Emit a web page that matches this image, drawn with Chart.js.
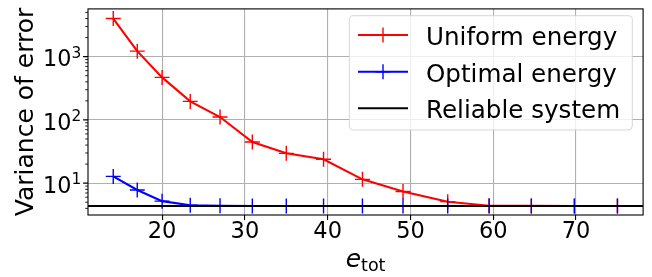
<!DOCTYPE html>
<html><head><meta charset="utf-8">
<script src="https://cdn.jsdelivr.net/npm/chart.js@4.4.0/dist/chart.umd.min.js"></script>
<style>html,body{margin:0;padding:0;background:#fff;overflow:hidden}#wrap{width:652px;height:277px;position:relative}</style>
</head><body><div id="wrap"><canvas id="c" width="652" height="277"></canvas></div>
<script>
// ---- data ----
const eTot = [14.1, 17.0, 20.0, 23.4, 27.0, 30.9, 35.0, 39.5, 44.2, 49.1, 54.5, 59.5, 64.6, 69.8, 75.0];
const uniformEnergy = [4000, 1220, 470, 196, 111, 44.8, 29.6, 23.9, 11.5, 7.4, 5.1, 4.4, 4.37, 4.36, 4.36];
const optimalEnergy = [12.8, 7.8, 5.2, 4.48, 4.38, 4.36, 4.36, 4.36, 4.36, 4.36, 4.36, 4.36, 4.36, 4.36, 4.36];
const reliableSystem = 4.36;
const seriesNames = ['Uniform energy', 'Optimal energy', 'Reliable system'];
const xTicks = [20, 30, 40, 50, 60, 70];
const yTicks = [10, 100, 1000];
const yTickLabels = ['10^1', '10^2', '10^3'];
const xLimits = [11.05, 78.1];
const yLimits = [3.14, 5680];
const xTitle = ['e', 'tot'];
const yTitle = 'Variance of error';

const FONT = '"DejaVu Sans", "Liberation Sans", sans-serif';

function drawCross(ctx, cx, cy, r, color, w) {
  ctx.beginPath();
  ctx.strokeStyle = color; ctx.lineWidth = w;
  ctx.moveTo(cx - r, cy); ctx.lineTo(cx + r, cy);
  ctx.moveTo(cx, cy - r); ctx.lineTo(cx, cy + r);
  ctx.stroke();
}

const decor = {
  id: 'decor',
  afterDatasetsDraw(chart) {
    const { ctx, chartArea: a, scales } = chart;
    const x = scales.x, y = scales.y;
    ctx.save();
    // frame
    ctx.strokeStyle = '#000'; ctx.lineWidth = 1.1;
    ctx.strokeRect(a.left, a.top, a.right - a.left, a.bottom - a.top);
    // y major ticks
    ctx.beginPath();
    yTicks.forEach(v => {
      const py = y.getPixelForValue(v);
      ctx.moveTo(a.left - 4.9, py); ctx.lineTo(a.left, py);
    });
    ctx.stroke();
    // y minor ticks
    ctx.lineWidth = 0.85;
    ctx.beginPath();
    for (let d = 1; d <= 1000; d *= 10) {
      for (let m = 2; m <= 9; m++) {
        const v = m * d;
        if (v < yLimits[0] || v > yLimits[1]) continue;
        const py = y.getPixelForValue(v);
        ctx.moveTo(a.left - 2.8, py); ctx.lineTo(a.left, py);
      }
    }
    ctx.stroke();
    // y tick labels with superscripts
    ctx.fillStyle = '#000';
    ctx.textBaseline = 'alphabetic';
    ctx.textAlign = 'left';
    yTicks.forEach((v, i) => {
      const [base, exp] = yTickLabels[i].split('^');
      const py = y.getPixelForValue(v);
      ctx.font = '22.3px ' + FONT;
      const wb = ctx.measureText(base).width;
      ctx.font = '15.4px ' + FONT;
      const we = ctx.measureText(exp).width;
      const right = a.left - 6.8;
      const x0 = right - wb - we;
      ctx.font = '22.3px ' + FONT;
      ctx.fillText(base, x0, py + 9.8);
      ctx.font = '15.4px ' + FONT;
      ctx.fillText(exp, x0 + wb, py + 1.2);
    });
    // y title
    ctx.save();
    ctx.font = '25px ' + FONT;
    ctx.textAlign = 'center';
    ctx.translate(33.3, (a.top + a.bottom) / 2);
    ctx.rotate(-Math.PI / 2);
    ctx.fillText(yTitle, 0, 0);
    ctx.restore();
    // x title e_tot
    ctx.font = 'italic 25px ' + FONT;
    const w1 = ctx.measureText(xTitle[0]).width;
    ctx.font = '17.5px ' + FONT;
    const w2 = ctx.measureText(xTitle[1]).width;
    const cx = (a.left + a.right) / 2;
    const sx = cx - (w1 + w2) / 2;
    ctx.textAlign = 'left';
    ctx.font = 'italic 25px ' + FONT;
    ctx.fillText(xTitle[0], sx, 267.3);
    ctx.font = '17.5px ' + FONT;
    ctx.fillText(xTitle[1], sx + w1, 271.2);

    // legend
    const bx = 349.3, by = 15.7, bw = 283, bh = 114.3, r = 4;
    ctx.beginPath();
    ctx.moveTo(bx + r, by);
    ctx.arcTo(bx + bw, by, bx + bw, by + bh, r);
    ctx.arcTo(bx + bw, by + bh, bx, by + bh, r);
    ctx.arcTo(bx, by + bh, bx, by, r);
    ctx.arcTo(bx, by, bx + bw, by, r);
    ctx.closePath();
    ctx.fillStyle = 'rgba(255,255,255,0.8)';
    ctx.fill();
    ctx.strokeStyle = 'rgba(204,204,204,0.8)';
    ctx.lineWidth = 1;
    ctx.stroke();
    const rows = [35, 71.7, 108.3];
    chart.data.datasets.forEach((ds, i) => {
      const ry = rows[i];
      ctx.beginPath();
      ctx.strokeStyle = ds.borderColor; ctx.lineWidth = ds.borderWidth;
      ctx.moveTo(358, ry); ctx.lineTo(408, ry);
      ctx.stroke();
      if (ds.pointRadius > 0) drawCross(ctx, 383, ry, ds.pointRadius, ds.borderColor, ds.pointBorderWidth);
      ctx.fillStyle = '#000';
      ctx.font = '24.6px ' + FONT;
      ctx.textAlign = 'left';
      ctx.textBaseline = 'alphabetic';
      ctx.fillText(ds.label, 426, ry + 9.8);
    });
    ctx.restore();
  }
};

const ctx = document.getElementById('c').getContext('2d');
new Chart(ctx, {
  type: 'line',
  data: {
    datasets: [
      { label: seriesNames[0], data: eTot.map((v, i) => ({ x: v, y: uniformEnergy[i] })),
        borderColor: '#ff0000', backgroundColor: '#ff0000', borderWidth: 2.1,
        pointStyle: 'cross', pointRadius: 7.5, pointBorderWidth: 1.4, pointBorderColor: '#ff0000',
        pointHoverRadius: 7.5, fill: false, tension: 0, order: 3 },
      { label: seriesNames[1], data: eTot.map((v, i) => ({ x: v, y: optimalEnergy[i] })),
        borderColor: '#0000ff', backgroundColor: '#0000ff', borderWidth: 2.1,
        pointStyle: 'cross', pointRadius: 7.5, pointBorderWidth: 1.4, pointBorderColor: '#0000ff',
        pointHoverRadius: 7.5, fill: false, tension: 0, order: 2 },
      { label: seriesNames[2], data: xLimits.map(v => ({ x: v, y: reliableSystem })),
        borderColor: '#000000', backgroundColor: '#000000', borderWidth: 2.1,
        pointRadius: 0, pointHoverRadius: 0, fill: false, tension: 0, order: 1 }
    ]
  },
  options: {
    responsive: false, animation: false, devicePixelRatio: 1,
    layout: { padding: { left: 0, right: 8, top: 3, bottom: 0 } },
    plugins: { legend: { display: false }, tooltip: { enabled: false } },
    scales: {
      x: {
        type: 'linear', min: xLimits[0], max: xLimits[1],
        afterBuildTicks: s => { s.ticks = xTicks.map(v => ({ value: v })); },
        afterFit: s => { s.height = 62; },
        grid: { color: '#b0b0b0', lineWidth: 1.1, drawTicks: true, tickLength: 5, tickColor: '#000', tickWidth: 1.1 },
        border: { display: false },
        ticks: { font: { family: FONT, size: 22.5, lineHeight: 1 }, color: '#000', padding: 1,
                 maxRotation: 0, autoSkip: false, callback: v => String(v) }
      },
      y: {
        type: 'logarithmic', min: yLimits[0], max: yLimits[1],
        afterBuildTicks: s => { s.ticks = yTicks.map(v => ({ value: v })); },
        afterFit: s => { s.width = 88; },
        grid: { color: '#b0b0b0', lineWidth: 1.1, drawTicks: false },
        border: { display: false },
        ticks: { display: false }
      }
    }
  },
  plugins: [decor]
});
</script></body></html>
